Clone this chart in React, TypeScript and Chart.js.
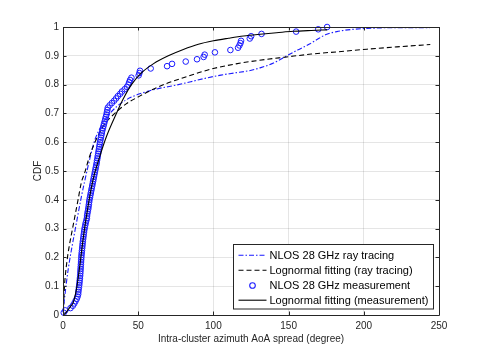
import React, { useEffect, useRef } from "react";
import { Chart, registerables } from "chart.js";

Chart.register(...registerables);

// Ray-tracing empirical CDF (blue dash-dot)
const rayX = [0, 0.5, 1.5, 2.2, 3.5, 5.6, 8.9, 12.2, 16.6, 21, 25.9, 31.3, 36, 42, 51, 62.5, 75, 85, 95.5, 105, 113.5, 124.6, 131, 140, 148.8, 156, 164.3, 170, 175.4, 183, 191, 206.5, 225, 244];
const rayY = [0, 0.03, 0.08, 0.11, 0.16, 0.226, 0.319, 0.41, 0.515, 0.605, 0.66, 0.7, 0.725, 0.747, 0.768, 0.785, 0.798, 0.81, 0.823, 0.833, 0.84, 0.849, 0.858, 0.875, 0.9, 0.92, 0.942, 0.96, 0.975, 0.985, 0.991, 0.996, 0.998, 0.998];

// Lognormal fitting (ray tracing) (black dashed)
const fitRayX = [0, 0.5, 1.1, 1.6, 2.7, 4, 5.6, 8, 10, 12.2, 14.5, 17, 20, 24, 28, 34.4, 42, 51, 60, 68.9, 80, 90, 100, 115, 130, 148.8, 165, 185, 202, 222, 244.2];
const fitRayY = [0, 0.05, 0.11, 0.14, 0.19, 0.235, 0.28, 0.345, 0.4, 0.46, 0.495, 0.54, 0.584, 0.63, 0.665, 0.7, 0.733, 0.76, 0.784, 0.804, 0.824, 0.841, 0.856, 0.872, 0.884, 0.896, 0.906, 0.915, 0.923, 0.931, 0.939];

// Measured samples (sorted); plotted as empirical CDF (rank / count)
const measX = [0.5, 1.5, 5, 6.5, 7.5, 8.3, 9.1, 9.7, 10.1, 10.2, 10.4, 10.6, 10.8, 10.95, 11.1, 11.25, 11.4, 11.5, 11.6, 11.7, 11.8, 11.9, 12.0, 12.1, 12.2, 12.3, 12.45, 12.6, 12.75, 12.9, 13.05, 13.2, 13.4, 13.6, 13.8, 14.0, 14.2, 14.5, 14.8, 15.1, 15.5, 15.9, 16.0, 16.2, 16.5, 16.8, 17.0, 17.2, 17.4, 17.6, 17.9, 18.2, 18.5, 18.8, 19.1, 19.4, 19.7, 20, 20.3, 20.6, 20.9, 21.2, 21.5, 21.8, 22.1, 22.4, 22.6, 22.9, 23.1, 23.4, 23.6, 23.9, 24.1, 24.4, 24.6, 24.9, 25.2, 25.5, 25.8, 26.1, 26.5, 26.9, 27.3, 27.7, 28.1, 28.5, 28.9, 29.2, 29.5, 29.8, 31, 32.5, 34, 35.3, 36.5, 38, 39.2, 41, 42.5, 43.5, 44, 44.6, 45.5, 50.3, 50.8, 51.2, 58.3, 69.2, 72.5, 81.6, 89.1, 93.5, 94.2, 101, 111.3, 116.4, 117.3, 118, 118.4, 124.2, 125.1, 132, 155, 169.7, 175.6];

// Lognormal fitting (measurement) (black solid)
const fitMeasX = [0, 1, 3, 5, 6.7, 8.9, 11.1, 13.3, 16.6, 20, 24.4, 28.9, 35.5, 40, 45.5, 52, 60, 70, 80, 90, 100, 110, 120, 131, 142, 153, 165, 175.6];
const fitMeasY = [0, 0.003, 0.015, 0.03, 0.042, 0.088, 0.168, 0.261, 0.376, 0.47, 0.55, 0.62, 0.7, 0.75, 0.8, 0.84, 0.872, 0.9, 0.922, 0.94, 0.952, 0.961, 0.969, 0.975, 0.98, 0.985, 0.988, 0.99];

const xTicks = [0, 50, 100, 150, 200, 250];
const yTicks = [0, 0.1, 0.2, 0.3, 0.4, 0.5, 0.6, 0.7, 0.8, 0.9, 1];

const legendLabels = [
  "NLOS 28 GHz ray tracing",
  "Lognormal fitting (ray tracing)",
  "NLOS 28 GHz measurement",
  "Lognormal fitting (measurement)",
];

const FONT = "'Liberation Sans', Arial, Helvetica, sans-serif";
const BLUE = "#1a1aff";
const AXIS = "#262626";
const DASHDOT = [5, 2, 1.5, 2];
const DASH = [5, 3];

const pts = (xs: number[], ys: number[]) => xs.map((x, i) => ({ x, y: ys[i] }));

export default function App() {
  const ref = useRef<HTMLCanvasElement | null>(null);

  useEffect(() => {
    if (!ref.current) return;
    const n = measX.length;
    const measPts = measX.map((x, i) => ({ x, y: (i + 1) / n }));

    const boxPlugin = {
      id: "boxAndLegend",
      afterDraw(chart: any) {
        const { ctx, chartArea: a, scales } = chart;
        const xs = scales.x, ys = scales.y;
        ctx.save();
        ctx.strokeStyle = AXIS;
        ctx.lineWidth = 1;
        ctx.beginPath();
        ctx.rect(Math.round(a.left) + 0.5, Math.round(a.top) + 0.5, Math.round(a.right - a.left), Math.round(a.bottom - a.top));
        ctx.stroke();
        const tl = 3.5;
        ctx.beginPath();
        xTicks.forEach((v) => {
          const px = Math.round(xs.getPixelForValue(v)) + 0.5;
          ctx.moveTo(px, a.bottom); ctx.lineTo(px, a.bottom - tl);
          ctx.moveTo(px, a.top); ctx.lineTo(px, a.top + tl);
        });
        yTicks.forEach((v) => {
          const py = Math.round(ys.getPixelForValue(v)) + 0.5;
          ctx.moveTo(a.left, py); ctx.lineTo(a.left + tl, py);
          ctx.moveTo(a.right, py); ctx.lineTo(a.right - tl, py);
        });
        ctx.stroke();

        // legend
        const lx = 233.5, ly = 244.5, lw = 200, lh = 64.5;
        ctx.fillStyle = "#ffffff";
        ctx.fillRect(lx, ly, lw, lh);
        ctx.strokeStyle = AXIS;
        ctx.lineWidth = 1;
        ctx.strokeRect(lx, ly, lw, lh);
        const rows = [255.5, 270.5, 285.5, 300.5];
        const styles = [
          { kind: "line", color: BLUE, dash: DASHDOT },
          { kind: "line", color: "#000000", dash: DASH },
          { kind: "marker", color: BLUE, dash: [] },
          { kind: "line", color: "#000000", dash: [] },
        ];
        ctx.font = `11px ${FONT}`;
        ctx.textBaseline = "middle";
        ctx.textAlign = "left";
        styles.forEach((st, r) => {
          const y = rows[r];
          ctx.strokeStyle = st.color;
          ctx.lineWidth = 1.1;
          if (st.kind === "line") {
            ctx.setLineDash(st.dash);
            ctx.beginPath();
            ctx.moveTo(238.5, y - 0.3);
            ctx.lineTo(266.5, y - 0.3);
            ctx.stroke();
            ctx.setLineDash([]);
          } else {
            ctx.beginPath();
            ctx.arc(252.5, y, 2.8, 0, Math.PI * 2);
            ctx.stroke();
          }
          ctx.fillStyle = "#000000";
          ctx.fillText(legendLabels[r], 269.5, y + 0.5);
        });
        ctx.restore();
      },
    };

    const chart = new Chart(ref.current, {
      type: "scatter",
      data: {
        datasets: [
          {
            label: legendLabels[0],
            data: pts(rayX, rayY),
            showLine: true,
            borderColor: BLUE,
            borderWidth: 1.1,
            borderDash: DASHDOT,
            pointRadius: 0,
            cubicInterpolationMode: "monotone",
            order: 3,
          },
          {
            label: legendLabels[1],
            data: pts(fitRayX, fitRayY),
            showLine: true,
            borderColor: "#000000",
            borderWidth: 1.1,
            borderDash: DASH,
            pointRadius: 0,
            cubicInterpolationMode: "monotone",
            order: 2,
          },
          {
            label: legendLabels[2],
            data: measPts,
            showLine: false,
            borderColor: BLUE,
            backgroundColor: "rgba(0,0,0,0)",
            borderWidth: 1,
            pointRadius: 2.8,
            pointStyle: "circle",
            clip: false,
            order: 1,
          },
          {
            label: legendLabels[3],
            data: pts(fitMeasX, fitMeasY),
            showLine: true,
            borderColor: "#000000",
            borderWidth: 1.1,
            pointRadius: 0,
            cubicInterpolationMode: "monotone",
            order: 0,
          },
        ] as any,
      },
      options: {
        animation: false,
        responsive: false,
        maintainAspectRatio: false,
        layout: { padding: { left: 0, top: 27, right: 46, bottom: 0 } },
        plugins: { legend: { display: false }, tooltip: { enabled: false } },
        scales: {
          x: {
            type: "linear",
            min: 0,
            max: 250,
            afterBuildTicks: (s: any) => { s.ticks = xTicks.map((v) => ({ value: v })); },
            afterFit: (s: any) => { s.height = 39; },
            grid: { color: "rgba(0,0,0,0.1)", drawTicks: false, lineWidth: 1 },
            border: { display: false },
            ticks: { color: AXIS, font: { family: FONT, size: 10 }, padding: 5, maxRotation: 0 },
            title: {
              display: true,
              text: "Intra-cluster azimuth AoA spread (degree)",
              color: AXIS,
              font: { family: FONT, size: 10 },
              padding: { top: 0, bottom: 8.7 },
            },
          },
          y: {
            type: "linear",
            min: 0,
            max: 1,
            afterBuildTicks: (s: any) => { s.ticks = yTicks.map((v) => ({ value: v })); },
            afterFit: (s: any) => { s.width = 63; },
            grid: { color: "rgba(0,0,0,0.1)", drawTicks: false, lineWidth: 1 },
            border: { display: false },
            ticks: {
              color: AXIS,
              font: { family: FONT, size: 10 },
              padding: 4,
              callback: (v: any) => String(Math.round(Number(v) * 10) / 10),
            },
            title: {
              display: true,
              text: "CDF",
              color: AXIS,
              font: { family: FONT, size: 10 },
              padding: { top: 32.3, bottom: 0 },
            },
          },
        },
      },
      plugins: [boxPlugin],
    } as any);

    return () => chart.destroy();
  }, []);

  return (
    <div style={{ position: "fixed", left: 0, top: 0, width: 485, height: 354, background: "#fff" }}>
      <canvas ref={ref} width={485} height={354} style={{ width: 485, height: 354, display: "block" }} />
    </div>
  );
}
